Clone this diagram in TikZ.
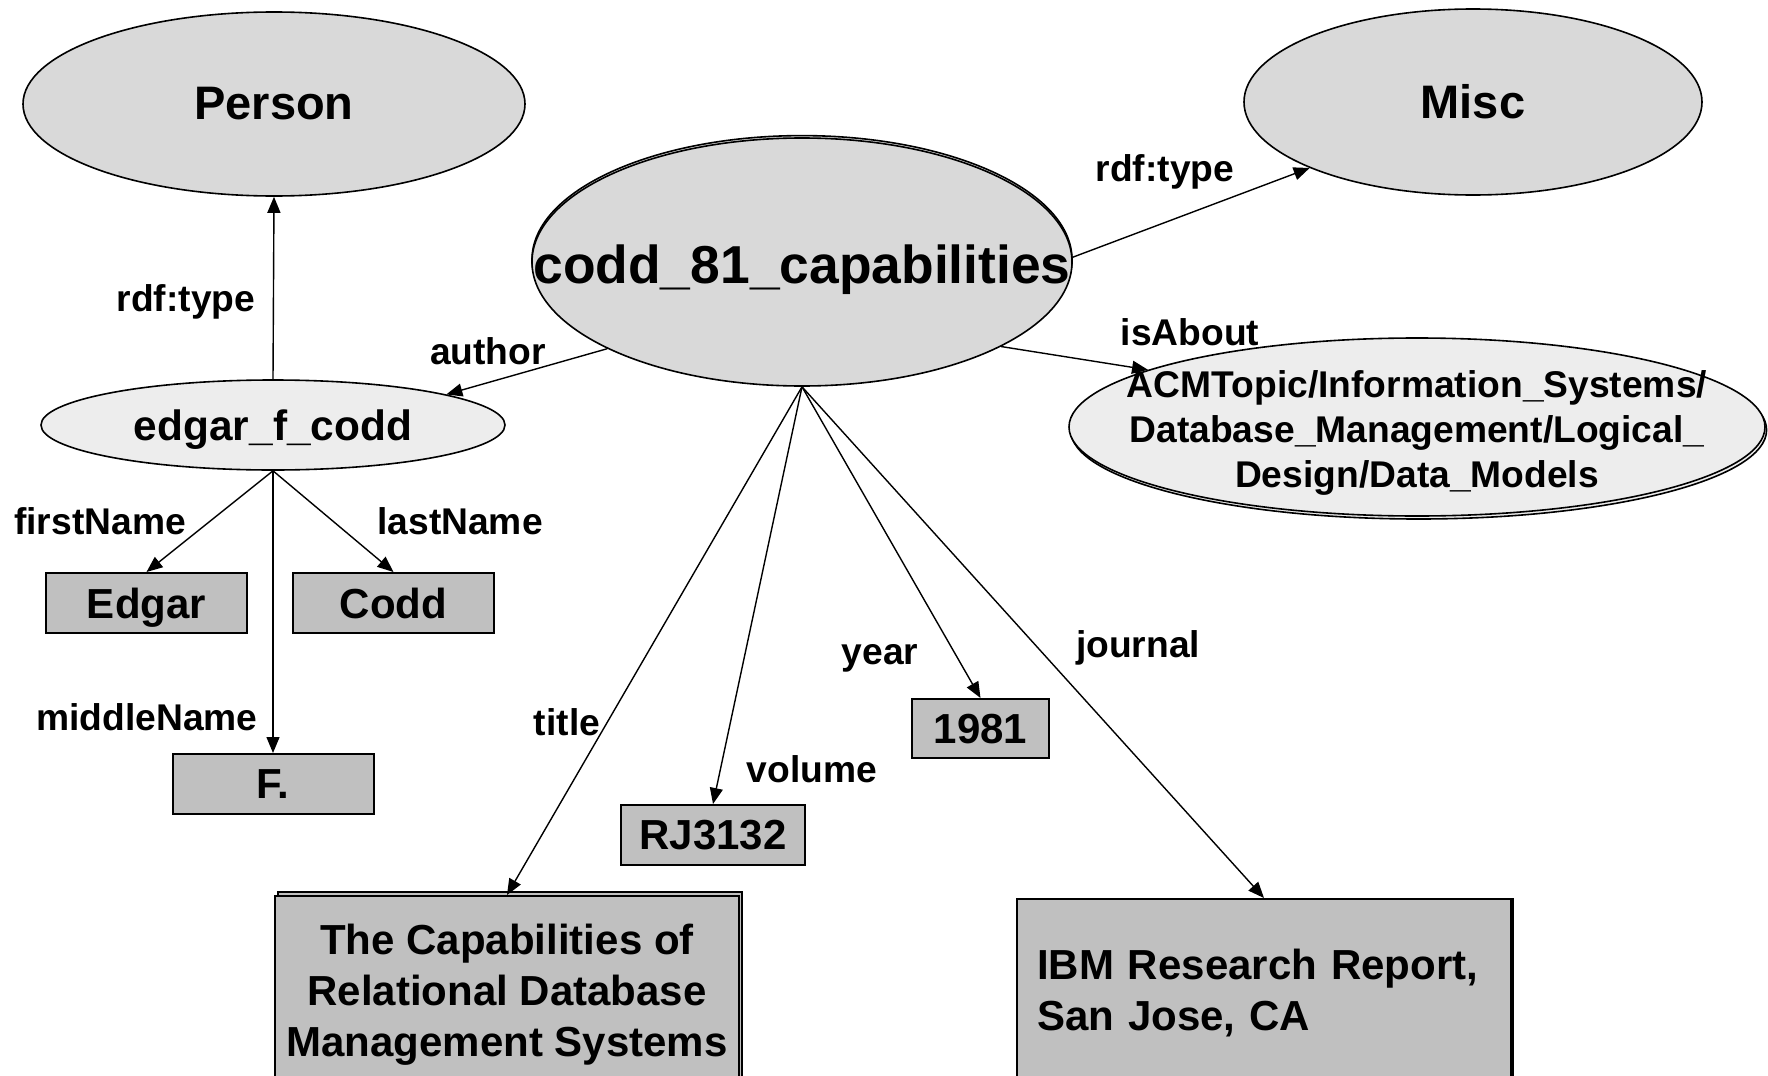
\documentclass[tikz,border=0pt]{standalone}
\usepackage{fontspec}
\setmainfont{Liberation Sans}
\usepackage{xcolor}
\usepackage{tikz}
\usetikzlibrary{arrows.meta,shapes.geometric,shadows}

\definecolor{classgray}{HTML}{D9D9D9}
\definecolor{instgray}{HTML}{EDEDED}
\definecolor{litgray}{HTML}{C0C0C0}

\begin{document}
\begin{tikzpicture}[x=0.5pt,y=-0.5pt,
    cls/.style={ellipse, draw, fill=classgray, line width=0.8pt, inner sep=0pt},
    inst/.style={ellipse, draw, fill=instgray, line width=0.8pt, inner sep=0pt},
    lit/.style={rectangle, draw, fill=litgray, line width=1pt, inner sep=0pt,
      text depth=0pt, font=\fontsize{21}{25.4}\selectfont\bfseries},
    lbl/.style={anchor=base, font=\fontsize{18.6}{22.5}\selectfont\bfseries},
    arr/.style={-{Triangle[length=8pt,width=6.5pt]}, line width=0.7pt}]
  \useasboundingbox (0,0) rectangle (1768,1076);
  \clip (0,0) rectangle (1768,1076);
  % classes
  \node[cls, minimum width=251pt, minimum height=92pt,
    font=\fontsize{23.5}{28}\selectfont\bfseries] (person) at (274,104) {Person};
  \node[cls, minimum width=229pt, minimum height=93pt,
    font=\fontsize{23.5}{28}\selectfont\bfseries] (misc) at (1473,102) {Misc};
  % resources
  \node[cls, minimum width=270pt, minimum height=124pt,
    copy shadow={shadow xshift=0pt, shadow yshift=1.2pt, fill=classgray, draw=black},
    label={[yshift=-3.8pt, font=\fontsize{26.7}{32}\selectfont\bfseries]center:codd\_81\_capabilities}]
    (codd) at (802,262) {};
  \node[inst, minimum width=232pt, minimum height=45pt, text depth=0pt,
    font=\fontsize{21.2}{25}\selectfont\bfseries] (edgar) at (273,425) {edgar\_f\_codd};
  \node[inst, minimum width=348pt, minimum height=89pt,
    copy shadow={shadow xshift=0.8pt, shadow yshift=-1.5pt, fill=instgray, draw=black},
    label={[yshift=-2.8pt, align=center, font=\fontsize{18.6}{22.5}\selectfont\bfseries]center:{ACMTopic/Information\_Systems/\\Database\_Management/Logical\_\\Design/Data\_Models}}]
    (acm) at (1417,427) {};
  % literals
  \node[lit, minimum width=100.5pt, minimum height=30pt] (fname) at (146.5,603) {Edgar};
  \node[lit, minimum width=100.5pt, minimum height=30pt] (lname) at (393.5,603) {Codd};
  \node[lit, minimum width=100.5pt, minimum height=30pt] (mname) at (273,784) {F.};
  \node[lit, minimum width=92pt, minimum height=30pt] (vol) at (713,835) {RJ3132};
  \node[lit, minimum width=68.5pt, minimum height=29.5pt] (year) at (980.5,728.5) {1981};
  \node[lit, minimum width=232pt, minimum height=94pt, align=center,
    copy shadow={shadow xshift=1.5pt, shadow yshift=2pt, fill=litgray, draw=black}]
    (title) at (507,990) {The Capabilities of\\Relational Database\\Management Systems};
  \node[lit, minimum width=247pt, minimum height=94pt, inner xsep=10pt,
    text width=227pt, align=left, text depth=,
    copy shadow={shadow xshift=1.2pt, shadow yshift=0pt, fill=litgray, draw=black}]
    (journal) at (1264,993) {IBM Research Report,\\San Jose, CA};
  % properties
  \draw[arr] (edgar.north) -- (person.south);
  \draw[arr] (codd.204) -- (edgar.10);
  \draw[arr] (codd.1) -- (misc.202);
  \draw[arr] (codd.337) -- (acm.168);
  \draw[arr] (edgar.south) -- (fname.north);
  \draw[arr] (edgar.south) -- (lname.north);
  \draw[arr] (edgar.south) -- (mname.north);
  \draw[arr] (codd.south) -- (title.north);
  \draw[arr] (codd.south) -- (vol.north);
  \draw[arr] (codd.south) -- (year.north);
  \draw[arr] (codd.south) -- (journal.north);
  % property labels
  \node[lbl] (ltype1) at (186,311) {rdf:type};
  \node[lbl] (lauthor) at (488,364) {author};
  \node[lbl] (ltype2) at (1165,181) {rdf:type};
  \node[lbl] (labout) at (1190,345) {isAbout};
  \node[lbl] (lfirst) at (100,534) {firstName};
  \node[lbl] (llast) at (460,534) {lastName};
  \node[lbl] (lmiddle) at (147,730) {middleName};
  \node[lbl] (ltitle) at (567,735) {title};
  \node[lbl] (lvol) at (812,782) {volume};
  \node[lbl] (lyear) at (880,664) {year};
  \node[lbl] (ljournal) at (1138,657) {journal};
\end{tikzpicture}
\end{document}
